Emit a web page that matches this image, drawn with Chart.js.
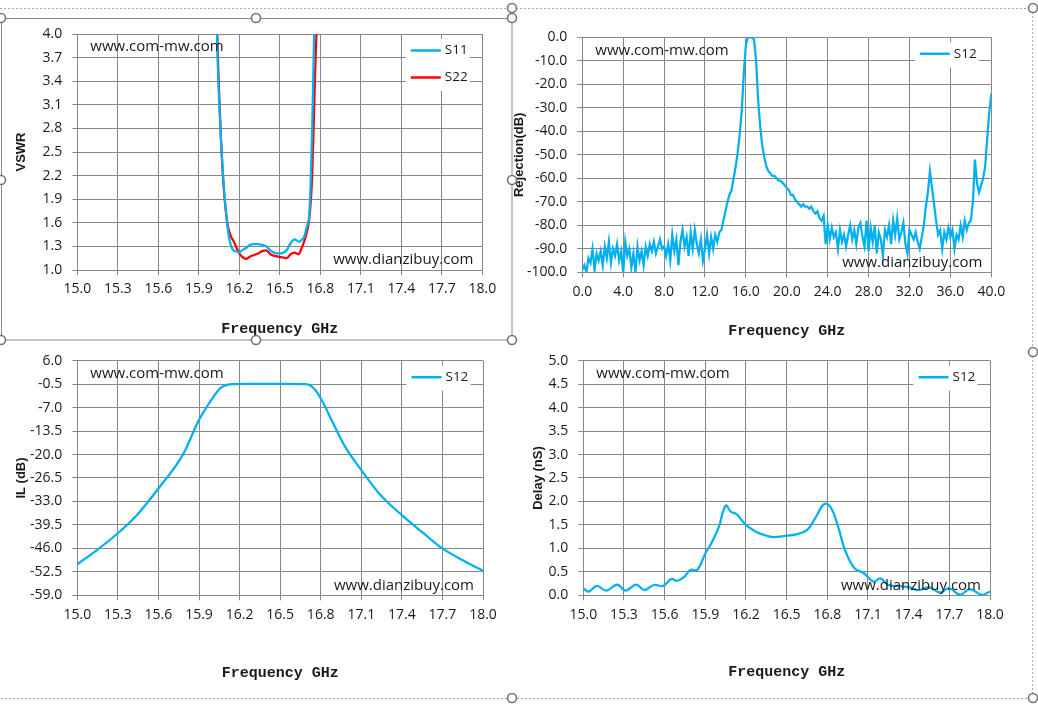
<!DOCTYPE html>
<html>
<head>
<meta charset="utf-8">
<title>Filter test report</title>
<script src="https://cdn.jsdelivr.net/npm/chart.js@4.4.1/dist/chart.umd.min.js"></script>
<style>
  html, body { margin: 0; padding: 0; background: #fff; }
  body { width: 1038px; height: 712px; position: relative; overflow: hidden; }
  canvas { position: absolute; }
  svg { position: absolute; left: 0; top: 0; pointer-events: none; }
</style>
</head>
<body>
<canvas id="vswrChart"></canvas>
<canvas id="rejectionChart"></canvas>
<canvas id="ilChart"></canvas>
<canvas id="delayChart"></canvas>

<!-- selection frame + handles (Excel screenshot look) -->
<svg width="1038" height="712">
  <path d="M0 8.5H1032.5V698.5H0" fill="none" stroke="#a8a8a8" stroke-dasharray="2 2"/>
  <rect x="1.5" y="18.5" width="510.5" height="321.5" fill="none" stroke="#8a8a8a"/>
  <g fill="#fff" stroke="#767676" stroke-width="1.6">
    <circle cx="1" cy="18" r="4.5"/><circle cx="256" cy="18" r="4.5"/><circle cx="512" cy="18" r="4.5"/>
    <circle cx="1" cy="180" r="4.5"/><circle cx="512" cy="180" r="4.5"/>
    <circle cx="1" cy="340" r="4.5"/><circle cx="256" cy="340" r="4.5"/><circle cx="512" cy="340" r="4.5"/>
    <circle cx="512" cy="8" r="4.5"/><circle cx="1033" cy="8" r="4.5"/>
    <circle cx="1033" cy="352" r="4.5"/>
    <circle cx="512" cy="698" r="4.5"/><circle cx="1033" cy="698" r="4.5"/>
  </g>
</svg>

<script>
// ---- data: VSWR (15-18 GHz) ----
const vswrFreq = [15.0, 15.5, 15.9, 16.0, 16.02, 16.04, 16.06, 16.08, 16.10, 16.12,
  16.14, 16.16, 16.18, 16.20, 16.22, 16.25, 16.28, 16.31, 16.34, 16.37,
  16.40, 16.43, 16.46, 16.49, 16.52, 16.55, 16.58, 16.61, 16.64, 16.66,
  16.68, 16.70, 16.72, 16.74, 16.76, 16.78, 16.80, 16.85, 17.0, 18.0];
const s11Vswr = [40, 30, 14, 7, 5.0, 3.65, 2.8, 2.2, 1.76, 1.45,
  1.30, 1.245, 1.235, 1.225, 1.25, 1.28, 1.32, 1.33, 1.33, 1.32,
  1.30, 1.25, 1.22, 1.21, 1.215, 1.25, 1.34, 1.39, 1.36, 1.38,
  1.42, 1.55, 1.75, 2.8, 4.5, 7, 10, 16, 25, 40];
const s22Vswr = [40, 30, 14, 7.5, 5.3, 3.8, 2.85, 2.15, 1.75, 1.52,
  1.42, 1.36, 1.28, 1.21, 1.17, 1.14, 1.17, 1.19, 1.21, 1.24,
  1.25, 1.20, 1.18, 1.17, 1.16, 1.15, 1.20, 1.22, 1.20, 1.27,
  1.36, 1.48, 1.68, 2.2, 3.4, 4.6, 7, 14, 25, 40];

// ---- data: rejection S12, 0-40 GHz sweep, 0.2 GHz step ----
const rejStep = 0.2;
const rejectionDb = [
  -99, -97, -100, -94, -96, -90, -99, -92, -95, -91,    // 0.0 - 1.8
  -97, -89, -94, -87, -96, -90, -93, -88, -95, -91,     // 2.0 - 3.8
  -100, -87, -93, -90, -98, -92, -100, -89, -95, -91,   // 4.0 - 5.8
  -97, -89, -93, -88, -91, -87, -92, -89, -86, -90,     // 6.0 - 7.8
  -89, -93, -88, -95, -84, -91, -86, -97, -87, -82,     // 8.0 - 9.8
  -89, -85, -93, -83, -90, -82, -88, -92, -86, -95,     // 10.0 - 11.8
  -90, -84, -92, -85, -90, -84, -87, -83, -82, -78,     // 12.0 - 13.8
  -74, -70, -67, -65, -60, -55, -49, -41, -31, -15,     // 14.0 - 15.8
  -3, 0, 0, 0, -1, -10, -27, -38, -46, -51,             // 16.0 - 17.8
  -55, -57, -58, -59, -59, -60, -61, -61, -62, -63,     // 18.0 - 19.8
  -64, -65, -67, -67, -69, -70, -71, -72, -71, -72,     // 20.0 - 21.8
  -72, -73, -72, -74, -75, -74, -77, -78, -76, -88,     // 22.0 - 23.8
  -80, -86, -81, -85, -83, -90, -82, -87, -84, -89,     // 24.0 - 25.8
  -84, -80, -86, -82, -88, -81, -79, -85, -89, -78,     // 26.0 - 27.8
  -91, -81, -87, -80, -92, -83, -86, -93, -82, -85,     // 28.0 - 29.8
  -80, -88, -78, -84, -77, -86, -83, -79, -88, -92,     // 30.0 - 31.8
  -82, -84, -86, -83, -87, -90, -85, -80, -72, -66,     // 32.0 - 33.8
  -57, -64, -71, -78, -84, -82, -90, -83, -86, -81,     // 34.0 - 35.8
  -85, -82, -90, -84, -86, -80, -85, -78, -82, -79,     // 36.0 - 37.8
  -78, -70, -52, -62, -66, -63, -60, -55, -43, -32,     // 38.0 - 39.8
  -24                                                   // 40.0
];
const rejFreq = rejectionDb.map((_, i) => i * rejStep);

// ---- data: insertion loss S12 ----
const ilFreq = [15.00, 15.14, 15.30, 15.44, 15.60, 15.78, 15.90, 15.99, 16.06, 16.15,
  16.30, 16.50, 16.69, 16.76, 16.82, 16.88, 16.98, 17.10, 17.23, 17.40,
  17.56, 17.70, 17.87, 18.00];
const ilDb = [-50.4, -46.6, -41.8, -36.8, -29.4, -20.1, -10.4, -4.9, -1.5, -0.46,
  -0.45, -0.45, -0.5, -2.1, -5.8, -10.4, -17.8, -24.3, -30.7, -36.8,
  -41.8, -46.0, -49.7, -52.2];

// ---- data: group delay S12 ----
const delayFreq = [15.00, 15.04, 15.10, 15.17, 15.25, 15.31, 15.39, 15.45, 15.52, 15.59,
  15.65, 15.69, 15.74, 15.79, 15.84, 15.90, 15.95, 16.00, 16.05, 16.09,
  16.13, 16.20, 16.27, 16.33, 16.40, 16.50, 16.57, 16.65, 16.71, 16.78,
  16.83, 16.88, 16.93, 17.00, 17.07, 17.14, 17.19, 17.25, 17.32, 17.41,
  17.47, 17.55, 17.63, 17.70, 17.78, 17.85, 17.94, 18.00];
const delayNs = [0.15, 0.08, 0.20, 0.10, 0.23, 0.10, 0.23, 0.11, 0.22, 0.20,
  0.35, 0.31, 0.38, 0.54, 0.54, 0.89, 1.14, 1.46, 1.91, 1.78,
  1.73, 1.50, 1.36, 1.29, 1.24, 1.27, 1.30, 1.39, 1.64, 1.95,
  1.85, 1.46, 0.97, 0.58, 0.47, 0.29, 0.36, 0.22, 0.20, 0.17,
  0.11, 0.17, 0.06, 0.15, 0.01, 0.13, 0.01, 0.08];

// ---- tick labels ----
const bandTicks = [15.0, 15.3, 15.6, 15.9, 16.2, 16.5, 16.8, 17.1, 17.4, 17.7, 18.0];
const wideTicks = [0, 4, 8, 12, 16, 20, 24, 28, 32, 36, 40];
const vswrTicks = [1.0, 1.3, 1.6, 1.9, 2.2, 2.5, 2.8, 3.1, 3.4, 3.7, 4.0];
const rejTicks = [-100, -90, -80, -70, -60, -50, -40, -30, -20, -10, 0];
const ilTicks = [-59, -52.5, -46, -39.5, -33, -26.5, -20, -13.5, -7, -0.5, 6];
const delayTicks = [0, 0.5, 1.0, 1.5, 2.0, 2.5, 3.0, 3.5, 4.0, 4.5, 5.0];

// colours / fonts
const GRID = '#878787';
const TEXT = '#1a1a1a';
const BLUE = '#00b0f0';
const RED = '#ff0000';
const TITLE_X_FONT = { family: "'Liberation Mono', monospace", size: 15, weight: 'bold', lineHeight: 1.2 };
const TITLE_Y_FONT = { family: "'Liberation Sans', Arial, sans-serif", size: 13, weight: 'bold', lineHeight: 1.2 };

Chart.defaults.font.family = "'Open Sans', 'Liberation Sans', sans-serif";
Chart.defaults.font.size = 14;
Chart.defaults.color = TEXT;

/**
 * Watermarks + legend drawn inside the plot area (like the Excel sheet)
 */
const chartDecor = {
  id: 'chartDecor',
  afterDatasetsDraw(chart) {
    const { ctx, chartArea: a } = chart;
    const sets = chart.data.datasets;
    ctx.save();
    ctx.textBaseline = 'middle';
    ctx.fillStyle = TEXT;
    ctx.font = "15px 'Open Sans'";
    ctx.textAlign = 'left';
    ctx.fillText('www.com-mw.com', a.left + 13, a.top + 13);
    ctx.textAlign = 'right';
    ctx.fillText('www.dianzibuy.com', a.right - 9, a.bottom - 10);

    // legend box
    const bw = 64;
    const bx = a.right - 12.5 - bw;
    const by = a.top + 5;
    ctx.fillStyle = '#fff';
    ctx.fillRect(bx, by, bw, sets.length * 27 - 2);
    ctx.font = "13.5px 'Open Sans'";
    ctx.textAlign = 'left';
    sets.forEach((ds, i) => {
      const y = by + 11.5 + i * 27;
      ctx.strokeStyle = ds.borderColor;
      ctx.lineWidth = 2.5;
      ctx.beginPath();
      ctx.moveTo(bx + 5, y);
      ctx.lineTo(bx + 35, y);
      ctx.stroke();
      ctx.fillStyle = TEXT;
      ctx.fillText(ds.label, bx + 39, y);
    });
    ctx.restore();
  }
};

/**
 * Place canvas and work out paddings so the plot area lands where it is in the sheet
 */
function makeChart(id, box, area, yTitleX, xTitleY, xTicks, yTicks, yTitle, datasets) {
  const canvas = document.getElementById(id);
  canvas.style.left = box.left + 'px';
  canvas.style.top = box.top + 'px';
  canvas.style.width = box.w + 'px';
  canvas.style.height = box.h + 'px';
  canvas.width = box.w;
  canvas.height = box.h;

  const halfY = TITLE_Y_FONT.size * TITLE_Y_FONT.lineHeight / 2;
  const halfX = TITLE_X_FONT.size * TITLE_X_FONT.lineHeight / 2;
  const padLeft = yTitleX - box.left - halfY;
  const yWidth = area.l - box.left - padLeft;
  const xHeight = xTitleY + halfX - area.b;

  const noPad = s => { s.paddingLeft = s.paddingRight = s.paddingTop = s.paddingBottom = 0; };

  return new Chart(canvas.getContext('2d'), {
    type: 'line',
    data: { datasets: datasets },
    options: {
      responsive: false,
      animation: false,
      events: [],
      layout: {
        padding: {
          left: padLeft,
          top: area.t - box.top,
          right: box.left + box.w - area.r,
          bottom: box.top + box.h - (xTitleY + halfX)
        }
      },
      elements: { point: { radius: 0 } },
      plugins: { legend: { display: false }, tooltip: { enabled: false } },
      scales: {
        x: {
          type: 'linear',
          min: xTicks[0],
          max: xTicks[xTicks.length - 1],
          afterBuildTicks: s => { s.ticks = xTicks.map(v => ({ value: v })); },
          afterFit: s => { s.height = xHeight; noPad(s); },
          ticks: { autoSkip: false, maxRotation: 0, minRotation: 0, padding: 6, callback: v => v.toFixed(1) },
          grid: { color: GRID, tickLength: 5 },
          border: { color: GRID },
          title: { display: true, text: 'Frequency GHz', font: TITLE_X_FONT, padding: 0, color: TEXT }
        },
        y: {
          type: 'linear',
          min: yTicks[0],
          max: yTicks[yTicks.length - 1],
          afterBuildTicks: s => { s.ticks = yTicks.map(v => ({ value: v })); },
          afterFit: s => { s.width = yWidth; noPad(s); },
          ticks: { autoSkip: false, padding: 10, callback: v => v.toFixed(1) },
          grid: { color: GRID, tickLength: 5 },
          border: { color: GRID },
          title: { display: true, text: yTitle, font: TITLE_Y_FONT, padding: 0, color: TEXT }
        }
      }
    },
    plugins: [chartDecor]
  });
}

function toPoints(xs, ys) {
  return xs.map((x, i) => ({ x: x, y: ys[i] }));
}

// VSWR
makeChart('vswrChart',
  { left: 0, top: 0, w: 512, h: 345 },
  { l: 77.3, t: 34, r: 482.3, b: 270 }, 21, 329,
  bandTicks, vswrTicks, 'VSWR',
  [
    { label: 'S11', data: toPoints(vswrFreq, s11Vswr), borderColor: BLUE, borderWidth: 2.25, cubicInterpolationMode: 'monotone' },
    { label: 'S22', data: toPoints(vswrFreq, s22Vswr), borderColor: RED, borderWidth: 2.25, cubicInterpolationMode: 'monotone' }
  ]);

// Rejection
makeChart('rejectionChart',
  { left: 500, top: 0, w: 538, h: 345 },
  { l: 582.3, t: 37.3, r: 991.3, b: 272.3 }, 519.5, 331.5,
  wideTicks, rejTicks, 'Rejection(dB)',
  [
    { label: 'S12', data: toPoints(rejFreq, rejectionDb), borderColor: BLUE, borderWidth: 2.25, tension: 0 }
  ]);

// Insertion loss
makeChart('ilChart',
  { left: 0, top: 345, w: 512, h: 367 },
  { l: 77.3, t: 360.7, r: 483, b: 595.3 }, 21.7, 673.3,
  bandTicks, ilTicks, 'IL (dB)',
  [
    { label: 'S12', data: toPoints(ilFreq, ilDb), borderColor: BLUE, borderWidth: 2.25, cubicInterpolationMode: 'monotone' }
  ]);

// Group delay
makeChart('delayChart',
  { left: 500, top: 345, w: 538, h: 367 },
  { l: 583.3, t: 360.7, r: 990, b: 595.3 }, 538.3, 672.3,
  bandTicks, delayTicks, 'Delay (nS)',
  [
    { label: 'S12', data: toPoints(delayFreq, delayNs), borderColor: BLUE, borderWidth: 2.25, tension: 0.4 }
  ]);
</script>
</body>
</html>
